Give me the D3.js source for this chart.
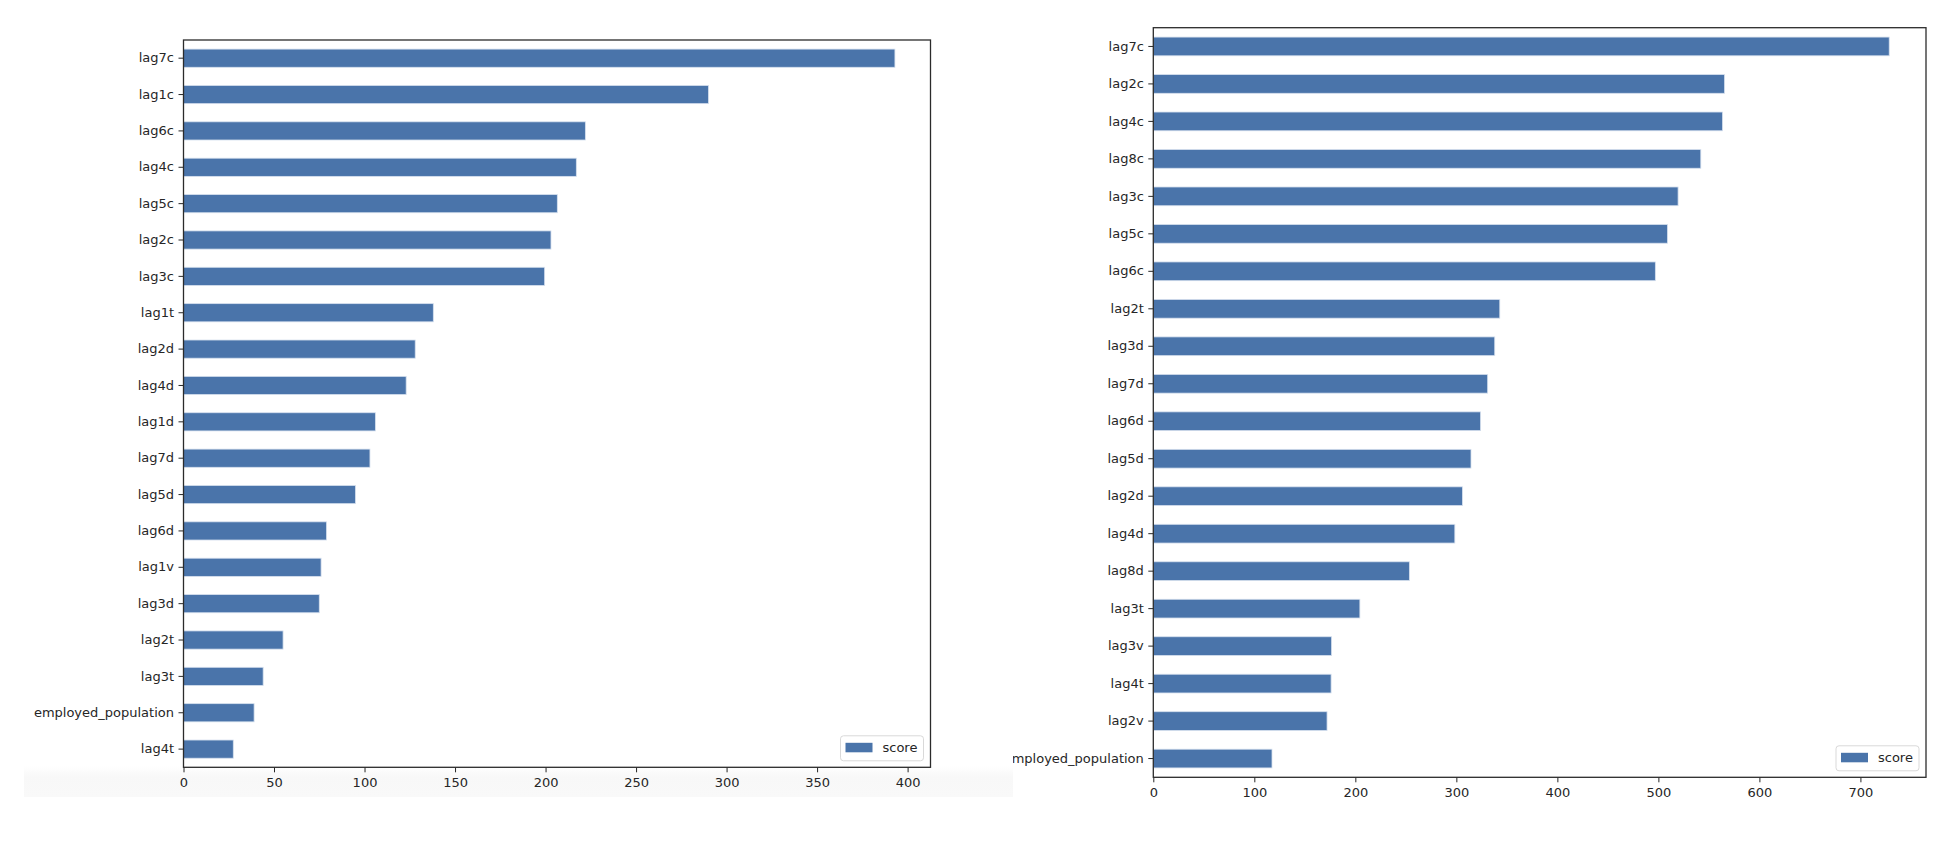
<!DOCTYPE html>
<html>
<head>
<meta charset="utf-8">
<script src="https://cdn.jsdelivr.net/npm/d3@7"></script>
<style>
  html, body { margin: 0; padding: 0; background: #ffffff; }
  svg { display: block; }
  text { font-family: "DejaVu Sans", sans-serif; }
</style>
</head>
<body>
<svg id="chart" width="1946" height="854"></svg>
<script>
// ---------------- data ----------------
const leftCategories = ["lag7c","lag1c","lag6c","lag4c","lag5c","lag2c","lag3c","lag1t","lag2d","lag4d",
  "lag1d","lag7d","lag5d","lag6d","lag1v","lag3d","lag2t","lag3t","employed_population","lag4t"];
const leftScores = [393, 290, 222, 217, 206.5, 203, 199.5, 138, 128, 123,
  106, 103, 95, 79, 76, 75, 55, 44, 39, 27.5];
const leftTicks = [0, 50, 100, 150, 200, 250, 300, 350, 400];

const rightCategories = ["lag7c","lag2c","lag4c","lag8c","lag3c","lag5c","lag6c","lag2t","lag3d","lag7d",
  "lag6d","lag5d","lag2d","lag4d","lag8d","lag3t","lag3v","lag4t","lag2v","employed_population"];
const rightScores = [728.5, 565.5, 563.5, 542, 519.5, 509, 497, 343, 338, 331,
  324, 314.5, 306, 298.5, 253.5, 204.5, 176.5, 176, 172, 117.5];
const rightTicks = [0, 100, 200, 300, 400, 500, 600, 700];

const seriesName = "score";

// ---------------- drawing ----------------
const svg = d3.select("#chart");
const barColor = "#4a74aa";
const inkColor = "#262626";

const defs = svg.append("defs");
const grad = defs.append("linearGradient").attr("id", "band").attr("x1", 0).attr("y1", 0).attr("x2", 0).attr("y2", 1);
grad.append("stop").attr("offset", "0%").attr("stop-color", "#ffffff");
grad.append("stop").attr("offset", "35%").attr("stop-color", "#f8f8f8");
grad.append("stop").attr("offset", "100%").attr("stop-color", "#f9f9f9");

// light grey strip under the left screenshot
svg.append("rect").attr("x", 24).attr("y", 766).attr("width", 989).attr("height", 31).attr("fill", "url(#band)");

defs.append("clipPath").attr("id", "rightClip")
  .append("rect").attr("x", 1013).attr("y", 0).attr("width", 933).attr("height", 854);

function drawPanel(g, cats, vals, ticks, box, clip) {
  const x = d3.scaleLinear().domain([0, d3.max(vals) * 1.05]).range([box.x0, box.x1]);
  const y = d3.scaleBand().domain(cats).range([box.y0, box.y1]).paddingInner(0.5).paddingOuter(0.25);

  // bars
  g.append("g").selectAll("rect").data(cats).join("rect")
    .attr("x", x(0))
    .attr("y", d => y(d))
    .attr("width", (d, i) => x(vals[i]) - x(0))
    .attr("height", y.bandwidth())
    .attr("fill", barColor)
    .attr("stroke", "#d6e0ee")
    .attr("stroke-width", 0.8);

  // y axis
  const ya = g.append("g").attr("transform", `translate(${box.x0},0)`)
    .call(d3.axisLeft(y).tickSize(5).tickPadding(4.5));
  ya.select(".domain").remove();
  ya.selectAll(".tick line").attr("stroke", inkColor).attr("stroke-width", 1);
  ya.selectAll(".tick text").attr("fill", inkColor).style("font-size", "13px").style("font-family", "DejaVu Sans");

  // x axis
  const xa = g.append("g").attr("transform", `translate(0,${box.y1})`)
    .call(d3.axisBottom(x).tickValues(ticks).tickFormat(d3.format("d")).tickSize(5).tickPadding(5));
  xa.select(".domain").remove();
  xa.selectAll(".tick line").attr("stroke", inkColor).attr("stroke-width", 1);
  xa.selectAll(".tick text").attr("fill", inkColor).style("font-size", "13px").style("font-family", "DejaVu Sans");

  // spines
  g.append("rect")
    .attr("x", box.x0).attr("y", box.y0)
    .attr("width", box.x1 - box.x0).attr("height", box.y1 - box.y0)
    .attr("fill", "none").attr("stroke", "#2b2b2b").attr("stroke-width", 1.3);

  // legend
  const lg = g.append("g");
  lg.append("rect")
    .attr("x", box.x1 - 90).attr("y", box.y1 - 31.5)
    .attr("width", 83).attr("height", 25).attr("rx", 3)
    .attr("fill", "#ffffff").attr("stroke", "#d9d9d9").attr("stroke-width", 1);
  lg.append("rect")
    .attr("x", box.x1 - 85).attr("y", box.y1 - 24.5)
    .attr("width", 27).attr("height", 9.5)
    .attr("fill", barColor);
  lg.append("text")
    .attr("x", box.x1 - 48).attr("y", box.y1 - 19.5)
    .attr("dy", "0.35em")
    .attr("fill", inkColor).style("font-size", "13px")
    .text(seriesName);
}

const gLeft = svg.append("g");
drawPanel(gLeft, leftCategories, leftScores, leftTicks, {x0: 183.5, x1: 930.5, y0: 40, y1: 767.3});

const gRight = svg.append("g").attr("clip-path", "url(#rightClip)");
drawPanel(gRight, rightCategories, rightScores, rightTicks, {x0: 1153.3, x1: 1926, y0: 27.7, y1: 777.3});
</script>
</body>
</html>
